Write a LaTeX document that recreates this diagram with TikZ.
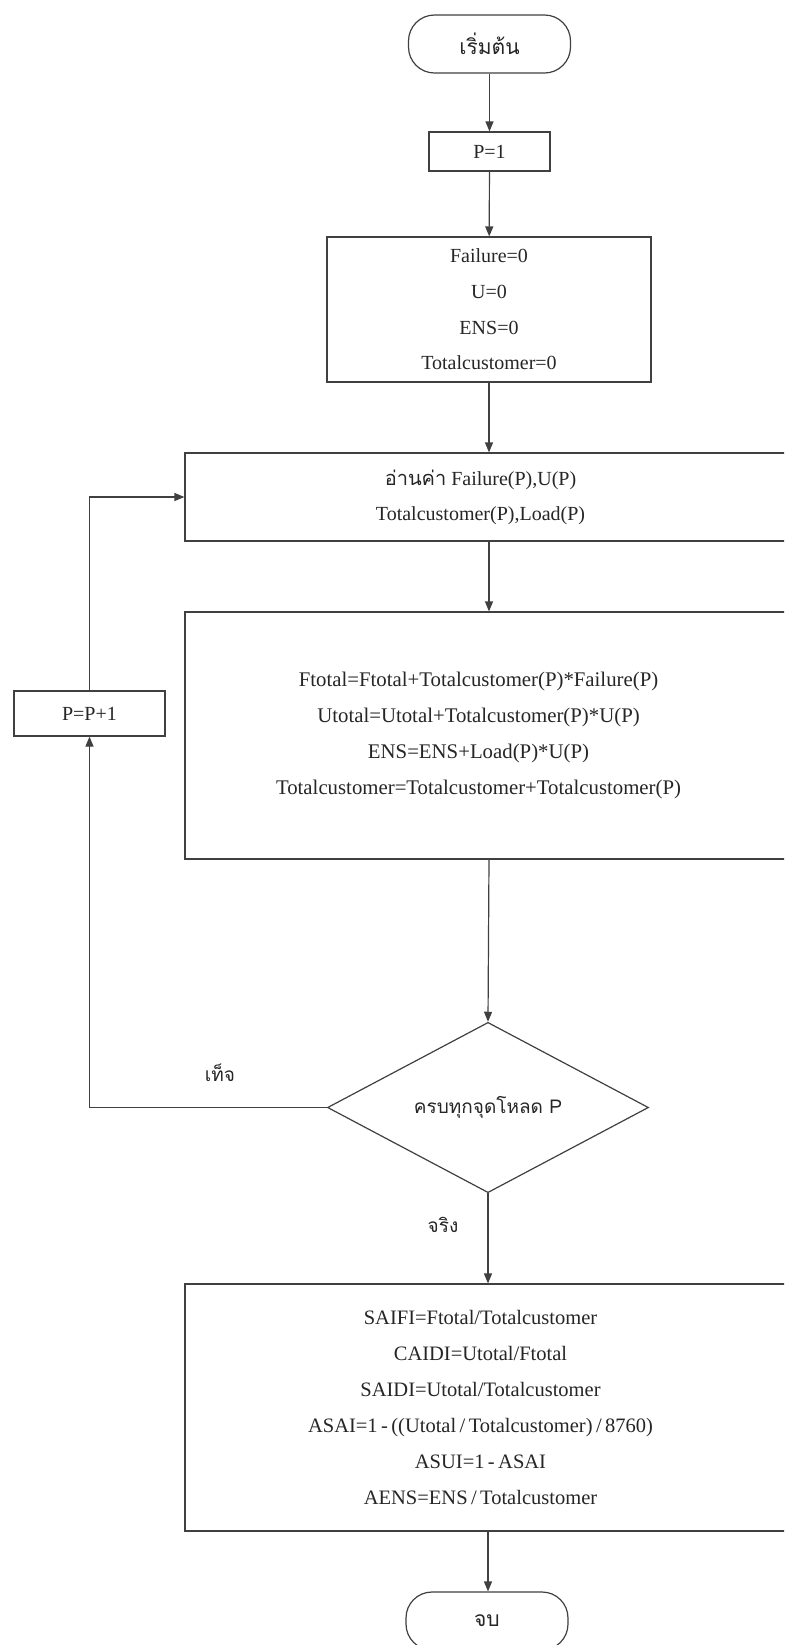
\documentclass[tikz,border=0pt]{standalone}
\usepackage{fontspec}
\setmainfont{Liberation Serif}
\newfontfamily\thai[Script=Thai]{Loma}
\usetikzlibrary{shapes.geometric,arrows.meta}

\begin{document}
\begin{tikzpicture}[
  x=0.5pt, y=-0.5pt,
  every node/.style={text=black!85, inner sep=0pt},
  line/.style={draw=black!75, line width=0.6pt},
  arr/.style={line, -{Triangle[length=5pt,width=4pt]}},
  procbox/.style={line, rectangle, align=center, font=\fontsize{10}{18}\selectfont},
  terminal/.style={line, rectangle, rounded corners=13pt, minimum width=81pt, minimum height=29pt, font=\thai\fontsize{10.5}{12}\selectfont},
  decision/.style={line, diamond, minimum width=160.5pt, minimum height=80.5pt, font=\thai\fontsize{9.5}{12}\selectfont},
  lbl/.style={font=\thai\fontsize{9.5}{12}\selectfont}
]
\useasboundingbox (0,0) rectangle (784,1645);
\clip (0,0) rectangle (784,1645);
\fill[white] (0,0) rectangle (784,1645);

% flow nodes
\node[terminal] (start) at (489.5,44) {เริ่มต้น};
\node[procbox, minimum width=60.5pt, minimum height=19.5pt] (p1) at (489.5,151.5) {P=1};
\node[procbox, minimum width=162pt, minimum height=72.5pt,
      font=\fontsize{10}{17.85}\selectfont] (init) at (489,309.5)
  {Failure=0\\U=0\\ENS=0\\Totalcustomer=0};
\node[procbox, minimum width=303.5pt, minimum height=44pt,
      font=\fontsize{10}{17.5}\selectfont] (read) at (488.5,497)
  {\hspace*{-8pt}{\thai อ่านค่า} Failure(P),U(P)\\\hspace*{-8pt}Totalcustomer(P),Load(P)};
\node[procbox, minimum width=303.5pt, minimum height=123.5pt,
      font=\fontsize{10.4}{18}\selectfont] (calc) at (488.5,735.5)
  {\hspace*{-10pt}Ftotal=Ftotal+Totalcustomer(P)*Failure(P)\\
   \hspace*{-10pt}Utotal=Utotal+Totalcustomer(P)*U(P)\\
   \hspace*{-10pt}ENS=ENS+Load(P)*U(P)\\
   \hspace*{-10pt}Totalcustomer=Totalcustomer+Totalcustomer(P)};
\node[decision] (check) at (488,1107.5) {ครบทุกจุดโหลด P};
\node[procbox, minimum width=303.5pt, minimum height=123.5pt,
      font=\fontsize{10.25}{18}\selectfont] (result) at (488.5,1407.5)
  {\hspace*{-8pt}SAIFI=Ftotal/Totalcustomer\\
   \hspace*{-8pt}CAIDI=Utotal/Ftotal\\
   \hspace*{-8pt}SAIDI=Utotal/Totalcustomer\\
   \hspace*{-8pt}ASAI=1\,-\,((Utotal\,/\,Totalcustomer)\,/\,8760)\\
   \hspace*{-8pt}ASUI=1\,-\,ASAI\\
   \hspace*{-8pt}AENS=ENS\,/\,Totalcustomer};
\node[terminal] (stop) at (487,1621) {จบ};
\node[procbox, minimum width=75.5pt, minimum height=22.5pt] (inc) at (89.5,713.5) {P=P+1};

% branch labels
\node[lbl] (nolbl) at (220,1073) {เท็จ};
\node[lbl] (yeslbl) at (443,1225) {จริง};

% connectors
\draw[arr] (start) -- (p1);
\draw[arr] (p1) -- (init);
\draw[arr] (init.south) -- (init.south |- read.north);
\draw[arr] (init.south |- read.south) -- (init.south |- calc.north);
\draw[arr] (init.south |- calc.south) -- (check.north);
\draw[arr] (check.south) -- (check.south |- result.north);
\draw[arr] (check.south |- result.south) -- (check.south |- stop.north);
\draw[arr] (check.west) -| (inc.south);
\draw[arr] (inc.north) |- (read.west);
\end{tikzpicture}
\end{document}
